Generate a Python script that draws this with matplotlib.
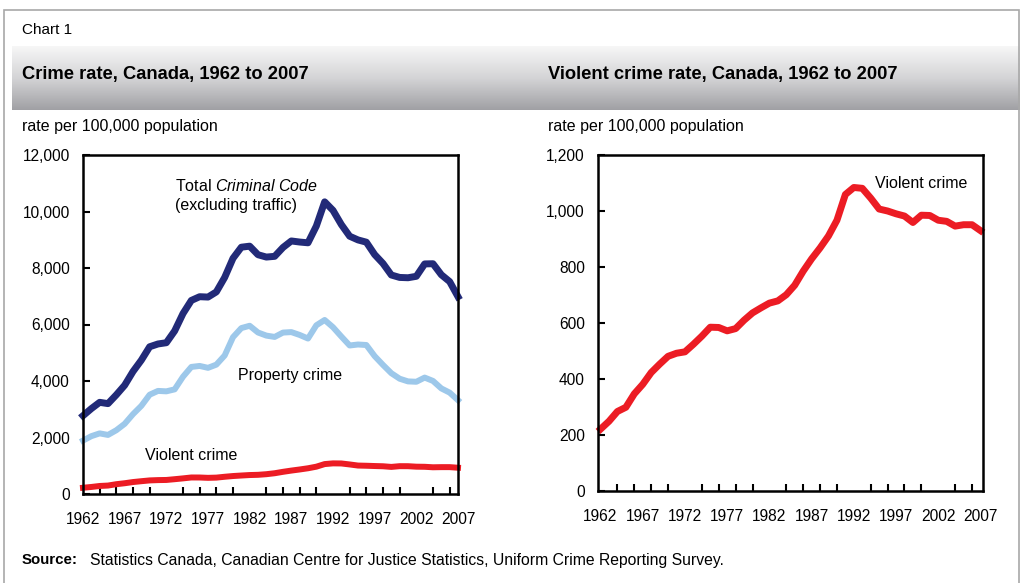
import numpy as np
import matplotlib
matplotlib.use("Agg")
import matplotlib.pyplot as plt
from matplotlib.patches import Rectangle
from matplotlib.colors import LinearSegmentedColormap
from matplotlib.ticker import FuncFormatter, MultipleLocator

plt.rcParams['font.family'] = ['Liberation Sans', 'DejaVu Sans']
plt.rcParams['mathtext.fontset'] = 'custom'
plt.rcParams['mathtext.rm'] = 'Liberation Sans'
plt.rcParams['mathtext.it'] = 'Liberation Sans:italic'

# ---- data ----
years = list(range(1962, 2008))
total_cc = [2771, 3022, 3245, 3199, 3511, 3850, 4336, 4737, 5212, 5311,
            5355, 5773, 6388, 6852, 6984, 6971, 7154, 7666, 8343, 8736,
            8773, 8470, 8387, 8413, 8727, 8957, 8919, 8892, 9485, 10342,
            10040, 9538, 9125, 8994, 8914, 8475, 8160, 7752, 7666, 7655,
            7706, 8144, 8151, 7761, 7518, 6984]
property_cr = [1891, 2047, 2146, 2091, 2258, 2484, 2826, 3120, 3515, 3649,
               3634, 3704, 4151, 4498, 4533, 4466, 4579, 4903, 5551, 5873,
               5955, 5717, 5607, 5560, 5714, 5731, 5630, 5503, 5972, 6160,
               5904, 5575, 5257, 5292, 5274, 4880, 4569, 4276, 4081, 3986,
               3973, 4121, 4002, 3737, 3588, 3320]
violent_cr = [221, 249, 284, 299, 347, 381, 423, 453, 481, 492,
              497, 524, 553, 585, 584, 572, 580, 610, 636, 654,
              671, 679, 701, 735, 785, 829, 868, 911, 967, 1059,
              1084, 1081, 1046, 1007, 1000, 990, 982, 959, 985, 984,
              967, 963, 946, 951, 951, 930]
year_labels = [1962, 1967, 1972, 1977, 1982, 1987, 1992, 1997, 2002, 2007]

chart_label = "Chart 1"
title_left = "Crime rate, Canada, 1962 to 2007"
title_right = "Violent crime rate, Canada, 1962 to 2007"
unit_label = "rate per 100,000 population"
source_text = "Statistics Canada, Canadian Centre for Justice Statistics, Uniform Crime Reporting Survey."

NAVY = '#222a78'
LIGHT = '#9dc8ea'
RED = '#ec1c24'
FS = 11.5

W, H = 1022, 583
fig = plt.figure(figsize=(W / 100, H / 100), dpi=100)
fig.patch.set_facecolor('white')

def fx(px):
    return px / W

def fy(py):
    return 1 - py / H

# outer frame
fig.patches.append(Rectangle((fx(4), fy(600)), fx(1019) - fx(4), fy(10) - fy(600),
                             transform=fig.transFigure, fill=False,
                             edgecolor='#a8a8a8', lw=1.2, zorder=0))

# gradient band
band = fig.add_axes([fx(12), fy(110), fx(1019) - fx(12), fy(46) - fy(110)])
grad = np.linspace(0, 1, 256).reshape(-1, 1)
cmap = LinearSegmentedColormap.from_list('band', ['#f7f7f7', '#d4d4d6', '#a0a0a4'])
band.imshow(grad, aspect='auto', cmap=cmap, extent=[0, 1, 0, 1], origin='upper')
band.set_axis_off()

fig.text(fx(22), fy(30), chart_label, fontsize=11, va='center', ha='left')
fig.text(fx(22), fy(75), title_left, fontsize=13.2, fontweight='bold', va='center', ha='left')
fig.text(fx(548), fy(75), title_right, fontsize=13.2, fontweight='bold', va='center', ha='left')
fig.text(fx(22), fy(126), unit_label, fontsize=FS, va='center', ha='left')
fig.text(fx(548), fy(126), unit_label, fontsize=FS, va='center', ha='left')
fig.text(fx(22), fy(560), "Source:", fontsize=10.8, fontweight='bold', va='center', ha='left')
fig.text(fx(90), fy(560), source_text, fontsize=11.3, va='center', ha='left')

comma = FuncFormatter(lambda v, p: f"{int(v):,}")

def style(ax, ymax, ystep):
    for s in ax.spines.values():
        s.set_linewidth(1.8)
        s.set_color('black')
    ax.set_xlim(1962, 2007)
    ax.set_ylim(0, ymax)
    ax.yaxis.set_major_locator(MultipleLocator(ystep))
    ax.yaxis.set_major_formatter(comma)
    ax.set_xticks(year_labels)
    ax.set_xticklabels([str(y) for y in year_labels])
    ax.set_xticks(list(range(1964, 2007, 2)), minor=True)
    ax.tick_params(axis='x', which='major', length=0, pad=13, labelsize=11.2)
    ax.tick_params(axis='x', which='minor', direction='in', length=5, width=1.5, color='black')
    ax.tick_params(axis='y', which='major', direction='in', length=5, width=1.5,
                   pad=9.5, labelsize=11.2)
    ax.set_facecolor('white')

# left
axL = fig.add_axes([fx(83), fy(494), fx(458) - fx(83), fy(155) - fy(494)])
axL.plot(years, total_cc, color=NAVY, lw=5.0, solid_joinstyle='round', clip_on=False)
axL.plot(years, property_cr, color=LIGHT, lw=4.3, solid_joinstyle='round', clip_on=False)
axL.plot(years, violent_cr, color=RED, lw=4.3, solid_joinstyle='round', clip_on=False)
style(axL, 12000, 2000)
axL.text(1973.0, 10903, r"Total $\it{Criminal\ Code}$", fontsize=FS, ha='left', va='center')
axL.text(1973.0, 10195, "(excluding traffic)", fontsize=FS, ha='left', va='center')
axL.text(1980.6, 4212, "Property crime", fontsize=FS, ha='left', va='center')
axL.text(1969.4, 1380, "Violent crime", fontsize=FS, ha='left', va='center')

# right
axR = fig.add_axes([fx(598), fy(491), fx(983) - fx(598), fy(155) - fy(491)])
axR.plot(years, violent_cr, color=RED, lw=5.0, solid_joinstyle='round', clip_on=False)
style(axR, 1200, 200)
axR.set_xlim(1961.7, 2007.3)
axR.text(1994.5, 1100, "Violent crime", fontsize=FS, ha='left', va='center')

fig.savefig('out.png', dpi=100)
